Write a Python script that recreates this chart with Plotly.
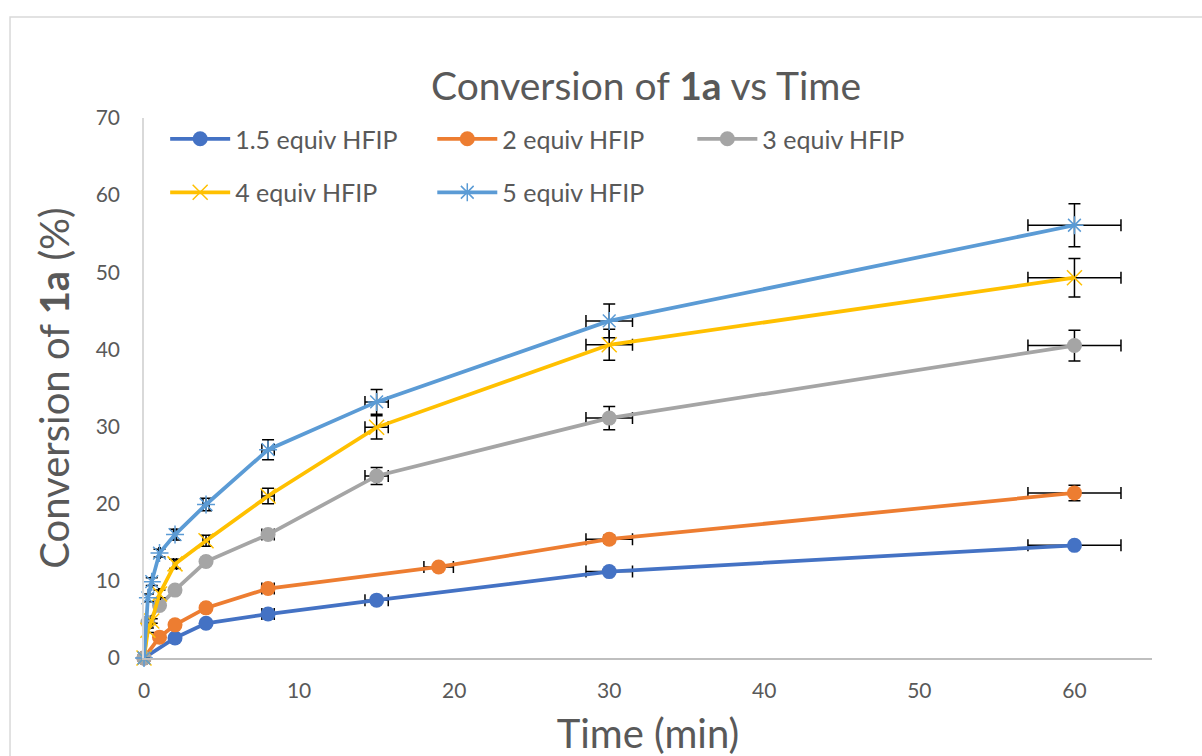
import plotly.graph_objects as go

# ---- data ----
series_names = ["1.5 equiv HFIP", "2 equiv HFIP", "3 equiv HFIP", "4 equiv HFIP", "5 equiv HFIP"]

t_15 = [0, 2, 4, 8, 15, 30, 60]
y_15 = [0, 2.6, 4.5, 5.7, 7.5, 11.2, 14.6]
e_15 = [0, 0.2, 0.2, 0.3, 0.3, 0.3, 0.3]

t_2 = [0, 1, 2, 4, 8, 19, 30, 60]
y_2 = [0, 2.7, 4.3, 6.5, 9.0, 11.8, 15.4, 21.4]
e_2 = [0, 0.2, 0.2, 0.3, 0.3, 0.3, 0.5, 1.0]

t_3 = [0, 0.25, 1, 2, 4, 8, 15, 30, 60]
y_3 = [0, 4.6, 6.8, 8.8, 12.5, 16.0, 23.6, 31.1, 40.5]
e_3 = [0, 0.3, 0.3, 0.3, 0.3, 0.4, 1.1, 1.5, 2.0]

t_4 = [0, 0.25, 0.5, 1, 2, 4, 8, 15, 30, 60]
y_4 = [0, 3.6, 4.8, 8.3, 12.2, 15.2, 21.0, 29.9, 40.6, 49.3]
e_4 = [0, 0.3, 0.3, 0.5, 0.6, 0.7, 1.0, 1.5, 2.0, 2.5]

t_5 = [0, 0.25, 0.5, 1, 2, 4, 8, 15, 30, 60]
y_5 = [0, 7.8, 9.9, 13.6, 16.0, 19.9, 27.0, 33.2, 43.7, 56.1]
e_5 = [0, 0.5, 0.5, 0.5, 0.7, 0.8, 1.3, 1.6, 2.2, 2.8]

x_err_percent = 5

x_ticks = [0, 10, 20, 30, 40, 50, 60]
y_ticks = [0, 10, 20, 30, 40, 50, 60, 70]

colors = ["#4472C4", "#ED7D31", "#A5A5A5", "#FFC000", "#5B9BD5"]
symbols = ["circle", "circle", "circle", "x-thin-open", "asterisk-open"]
xs = [t_15, t_2, t_3, t_4, t_5]
ys = [y_15, y_2, y_3, y_4, y_5]
es = [e_15, e_2, e_3, e_4, e_5]
legend_ids = ["legend", "legend2", "legend3", "legend4", "legend5"]
# legend entry anchor positions (paper fraction of plot area) and rows
legend_x = [0.021, 0.286, 0.544, 0.021, 0.286]
legend_y = [0.961, 0.961, 0.961, 0.862, 0.862]

FONT = "Lato"
TXT = "#595959"

W, H = 1202, 770

fig = go.Figure()
for i in range(5):
    open_sym = symbols[i].endswith("open")
    fig.add_trace(go.Scatter(
        x=xs[i], y=ys[i], name=series_names[i], mode="lines+markers",
        line=dict(color=colors[i], width=3.75),
        marker=dict(symbol=symbols[i], size=15, color=colors[i],
                    line=dict(color=colors[i], width=1.5 if open_sym else 0)),
        error_y=dict(type="data", array=es[i], visible=True, color="black", thickness=1.5, width=6),
        error_x=dict(type="percent", value=x_err_percent, visible=True, color="black", thickness=1.5, width=6),
        legend=legend_ids[i],
        showlegend=True,
        cliponaxis=False,
    ))

legend_layout = {}
for i in range(5):
    legend_layout[legend_ids[i]] = dict(
        orientation="h", x=legend_x[i], xanchor="left", y=legend_y[i], yanchor="middle",
        font=dict(size=25, color=TXT, family=FONT), itemwidth=60, bgcolor="rgba(0,0,0,0)")

fig.update_layout(
    width=W, height=H,
    showlegend=True,
    paper_bgcolor="white", plot_bgcolor="white",
    margin=dict(l=144, r=50, t=118, b=H - 118 - 540, autoexpand=False),
    font=dict(family=FONT, color=TXT),
    title=dict(text="Conversion of <b>1a</b> vs Time", x=646 / W, xanchor="center",
               y=1 - 86 / H, yanchor="middle", font=dict(size=39, color=TXT, family=FONT)),
    xaxis=dict(range=[0, 65], tickvals=x_ticks, showgrid=False, zeroline=False, automargin=False,
               showline=True, linecolor="#BFBFBF", linewidth=1.5, ticks="", ticklabelstandoff=13,
               tickfont=dict(size=21, color=TXT, family=FONT),
               title=dict(text="Time (min)", font=dict(size=40, color=TXT, family=FONT), standoff=19)),
    yaxis=dict(range=[0, 70], tickvals=y_ticks, showgrid=False, zeroline=False, automargin=False,
               showline=True, linecolor="#D9D9D9", linewidth=1.5, ticks="", ticklabelstandoff=18,
               tickfont=dict(size=21, color=TXT, family=FONT),
               title=dict(text="Conversion of <b>1a</b> (%)", font=dict(size=40, color=TXT, family=FONT), standoff=14)),
    shapes=[dict(type="rect", xref="paper", yref="paper", x0=-0.1329, x1=1.2, y0=-0.5, y1=1.187,
                 line=dict(color="#D9D9D9", width=1.5), fillcolor="rgba(0,0,0,0)", layer="below")],
    **legend_layout,
)

fig.write_html("out.html",
               config={"displayModeBar": False},
               post_script="document.body.style.margin='0';document.body.style.overflow='hidden';"
                           "document.documentElement.style.overflow='hidden';")
